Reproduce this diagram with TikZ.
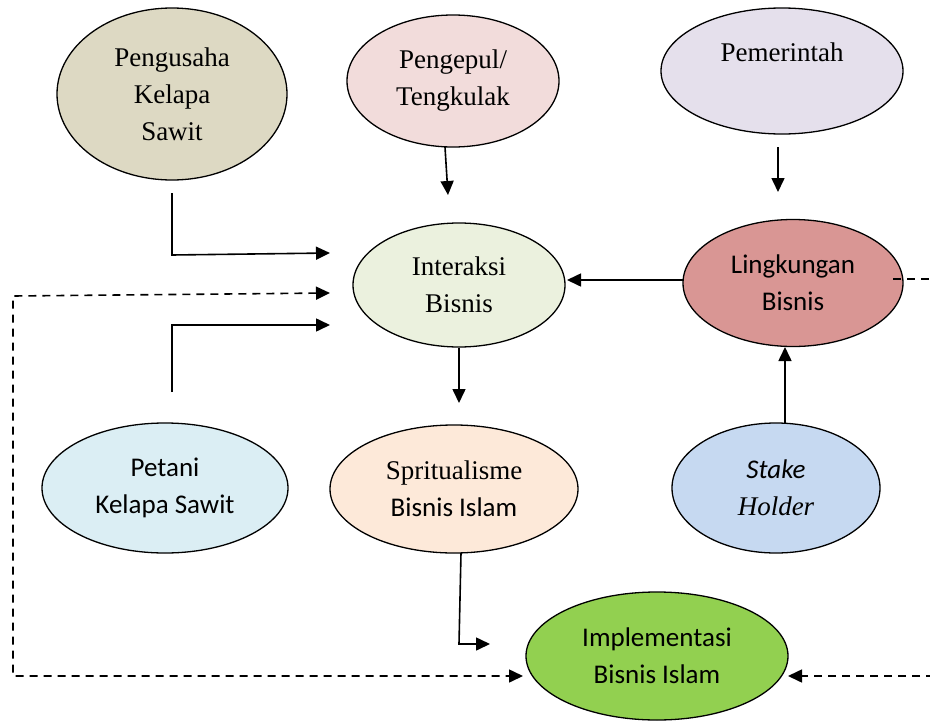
\documentclass[tikz,border=0pt]{standalone}
\usepackage{fontspec}
\setmainfont{Liberation Serif}
\newfontfamily\calibri{Carlito}
\usetikzlibrary{arrows.meta,shapes.geometric}
\definecolor{cPengusaha}{HTML}{DDD9C3}
\definecolor{cPengepul}{HTML}{F2DCDB}
\definecolor{cPemerintah}{HTML}{E5E0EC}
\definecolor{cInteraksi}{HTML}{EBF1DE}
\definecolor{cLingkungan}{HTML}{D99694}
\definecolor{cPetani}{HTML}{DBEEF4}
\definecolor{cSpritual}{HTML}{FDE9D9}
\definecolor{cStake}{HTML}{C6D9F1}
\definecolor{cImpl}{HTML}{92D050}
\tikzset{
  bubble/.style={ellipse, draw=black, line width=1.3pt, inner sep=0pt, align=center,
    font=\fontsize{27}{37}\selectfont},
  conn/.style={line width=1.6pt, -{Triangle[length=14pt,width=13pt]}},
  dline/.style={line width=1.6pt, dash pattern=on 8pt off 6pt},
}
\begin{document}
\begin{tikzpicture}[x=1pt,y=-1pt]
\useasboundingbox (0,0) rectangle (930,723);
\clip (0,0) rectangle (930,723);
% ellipses
\node[bubble, fill=cPengusaha, minimum width=230pt, minimum height=172pt] (pengusaha) at (172,94) {Pengusaha\\Kelapa\\Sawit};
\node[bubble, fill=cPengepul, minimum width=212pt, minimum height=132pt] (pengepul) at (453,81) {Pengepul/\\Tengkulak};
\node[bubble, fill=cPemerintah, minimum width=242pt, minimum height=126pt] (pemerintah) at (782,71) {Pemerintah\\[-10pt]\strut};
\node[bubble, fill=cInteraksi, minimum width=212pt, minimum height=124pt] (interaksi) at (459,285) {Interaksi\\Bisnis};
\node[bubble, fill=cLingkungan, minimum width=220pt, minimum height=127pt, font=\calibri\fontsize{27}{37}\selectfont] (lingkungan) at (793,283) {Lingkungan\\Bisnis};
\node[bubble, fill=cPetani, minimum width=246pt, minimum height=130pt, font=\calibri\fontsize{27}{37}\selectfont] (petani) at (165,488) {Petani\\Kelapa Sawit};
\node[bubble, fill=cSpritual, minimum width=248pt, minimum height=128pt] (spritual) at (454,489) {Spritualisme\\{\calibri Bisnis Islam}};
\node[bubble, fill=cStake, minimum width=208pt, minimum height=130pt] (stake) at (776,488) {{\calibri\itshape Stake}\\{\itshape Holder}};
\node[bubble, fill=cImpl, minimum width=262pt, minimum height=128pt, font=\calibri\fontsize{27}{37}\selectfont] (impl) at (657,656) {Implementasi\\Bisnis Islam};
% free coordinates
\coordinate (a1) at (172,193);
\coordinate (a2) at (172,255);
\coordinate (a3) at (330,253);
\coordinate (b1) at (445,147);
\coordinate (b2) at (448,195);
\coordinate (c1) at (778,147);
\coordinate (c2) at (778,192);
\coordinate (d2) at (459,403);
\coordinate (e1) at (785,423);
\coordinate (e2) at (785,347);
\coordinate (f1) at (461,553);
\coordinate (f2) at (459,644);
\coordinate (f3) at (490,644);
\coordinate (g1) at (172,392);
\coordinate (g2) at (172,325);
\coordinate (g3) at (330,325);
\coordinate (h1) at (330,293);
\coordinate (h2) at (13,296);
\coordinate (h3) at (13,676);
\coordinate (h4) at (523,676);
\coordinate (k1) at (893,279);
\coordinate (k2) at (960,279);
\coordinate (k3) at (960,676);
\coordinate (k4) at (788,676);
\coordinate (i1) at (683,280);
\coordinate (i2) at (567,280);
% connectors
\draw[conn] (a1) -- (a2) -- (a3);
\draw[conn] (b1) -- (b2);
\draw[conn] (c1) -- (c2);
\draw[conn] (i1) -- (i2);
\draw[conn] (interaksi.south) -- (d2);
\draw[conn] (e1) -- (e2);
\draw[conn] (f1) -- (f2) -- (f3);
\draw[conn] (g1) -- (g2) -- (g3);
\draw[dline, {Triangle[length=14pt,width=13pt]}-{Triangle[length=14pt,width=13pt]}] (h1) -- (h2) -- (h3) -- (h4);
\draw[dline, -{Triangle[length=14pt,width=13pt]}] (k1) -- (k2) -- (k3) -- (k4);
\end{tikzpicture}
\end{document}
